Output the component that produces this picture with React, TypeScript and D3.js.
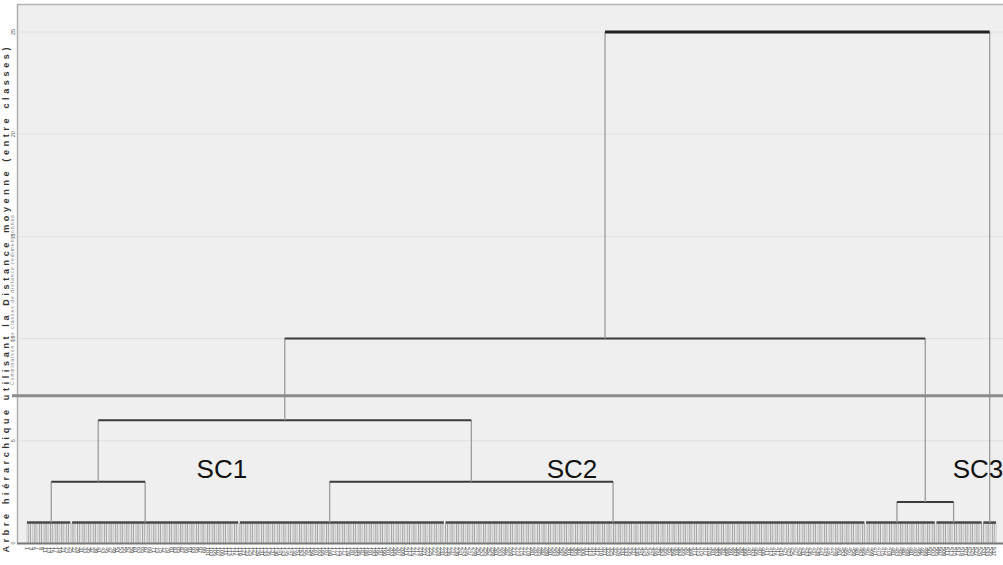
import React from "react";
import * as d3 from "d3";

// leaf clusters at the bottom of the tree (number of cases in each)
const groupSizes = [25, 93, 114, 233, 39, 26, 8];
// where the stem leaves each cluster bar (fraction of the bar)
const groupAttach = [0.56, 0.44, 0.44, 0.4, 0.45, 0.38, 0.5];
const groupHeight = 1;

// merges, linkage style: node ids 0-6 are clusters, 7.. are merges
const mergeLeft = [0, 2, 7, 4, 9, 11];
const mergeRight = [1, 3, 8, 5, 10, 6];
const mergeHeight = [3, 3, 6, 2, 10, 25];

const yTicks = [0, 5, 10, 15, 20, 25];
const cutHeight = 7.2;

const clusterLabels = ["SC1", "SC2", "SC3"];
const clusterLabelLeaf = [108, 302, 527];
const clusterLabelHeight = 3.2;

const yTitle = "Arbre hiérarchique utilisant la Distance moyenne (entre classes)";
const ySubTitle = "Combinaison des classes de distance redimensionnée";

const W = 1003;
const H = 565;

export default function App() {
  const nLeaves = d3.sum(groupSizes);
  const x = d3.scaleLinear().domain([0, nLeaves - 1]).range([27, 996]);
  const y = d3.scaleLinear().domain([0, 25]).range([543, 32]);

  // cluster bars and stems
  const starts = groupSizes.map((_, i) => d3.sum(groupSizes.slice(0, i)));
  const nodeX: number[] = groupSizes.map((s, i) => x(starts[i] + groupAttach[i] * (s - 1)));
  const nodeH: number[] = groupSizes.map(() => groupHeight);
  mergeLeft.forEach((l, i) => {
    nodeX.push((nodeX[l] + nodeX[mergeRight[i]]) / 2);
    nodeH.push(mergeHeight[i]);
  });

  const leaves = d3.range(nLeaves);

  return (
    <svg
      width={W}
      height={H}
      style={{ position: "absolute", left: 0, top: 0, background: "#fff" }}
      fontFamily="Liberation Sans, Arial, sans-serif"
    >
      {/* plot background */}
      <rect x={17} y={4} width={W - 17} height={y(0) - 4} fill="#efefef" />
      <line x1={17} x2={W} y1={4.5} y2={4.5} stroke="#b5b5b5" strokeWidth={1.5} />
      <line x1={17.5} x2={17.5} y1={4} y2={y(0)} stroke="#b0b0b0" strokeWidth={1.5} />

      {/* grid + y ticks */}
      {yTicks.map((t) => (
        <g key={t}>
          {t > 0 && <line x1={18} x2={W} y1={y(t)} y2={y(t)} stroke="#e0e0e0" strokeWidth={1} />}
          <text
            transform={`translate(15,${y(t)}) rotate(-90)`}
            fontSize={5.5}
            fill="#555"
            textAnchor="middle"
          >
            {t}
          </text>
        </g>
      ))}

      {/* axis titles */}
      <text
        transform={`translate(9,300) rotate(-90)`}
        fontSize={9}
        fontWeight="bold"
        fill="#333"
        textAnchor="middle"
        textLength={505}
        lengthAdjust="spacing"
      >
        {yTitle}
      </text>
      <text
        transform={`translate(14,300) rotate(-90)`}
        fontSize={5}
        fill="#888"
        textAnchor="middle"
        textLength={170}
        lengthAdjust="spacing"
      >
        {ySubTitle}
      </text>

      {/* leaves */}
      {leaves.map((i) => (
        <line
          key={"lf" + i}
          x1={x(i)}
          x2={x(i)}
          y1={y(groupHeight)}
          y2={y(0)}
          stroke={i % 3 === 0 ? "#c4c4c4" : "#9c9c9c"}
          strokeWidth={0.9}
        />
      ))}
      {leaves
        .filter((i) => i % 2 === 0)
        .map((i) => (
          <text
            key={"lb" + i}
            transform={`translate(${x(i) - 1.8},547) rotate(90)`}
            fontSize={5.5}
            fill="#444"
          >
            {i + 1}
          </text>
        ))}

      {/* baseline */}
      <line x1={17} x2={W} y1={y(0) + 0.5} y2={y(0) + 0.5} stroke="#777" strokeWidth={2} />

      {/* cluster bars */}
      {groupSizes.map((s, i) => (
        <line
          key={"gb" + i}
          x1={x(starts[i])}
          x2={x(starts[i] + s - 1)}
          y1={y(groupHeight)}
          y2={y(groupHeight)}
          stroke="#4a4a4a"
          strokeWidth={2.5}
        />
      ))}

      {/* merges */}
      {mergeLeft.map((l, i) => {
        const r = mergeRight[i];
        const h = y(mergeHeight[i]);
        return (
          <g key={"m" + i}>
            <line x1={nodeX[l]} x2={nodeX[l]} y1={h} y2={y(nodeH[l])} stroke="#9a9a9a" strokeWidth={1.3} />
            <line x1={nodeX[r]} x2={nodeX[r]} y1={h} y2={y(nodeH[r])} stroke="#9a9a9a" strokeWidth={1.3} />
            <line
              x1={nodeX[l]}
              x2={nodeX[r]}
              y1={h}
              y2={h}
              stroke={mergeHeight[i] === 25 ? "#222" : "#3a3a3a"}
              strokeWidth={mergeHeight[i] === 25 ? 3 : 2}
            />
          </g>
        );
      })}

      {/* cut line */}
      <line x1={12} x2={W} y1={y(cutHeight)} y2={y(cutHeight)} stroke="#8c8c8c" strokeWidth={3} />

      {/* cluster names */}
      {clusterLabels.map((c, i) => (
        <text
          key={c}
          x={x(clusterLabelLeaf[i])}
          y={y(clusterLabelHeight)}
          fontSize={26}
          textAnchor="middle"
          fill="#111"
        >
          {c}
        </text>
      ))}
    </svg>
  );
}
